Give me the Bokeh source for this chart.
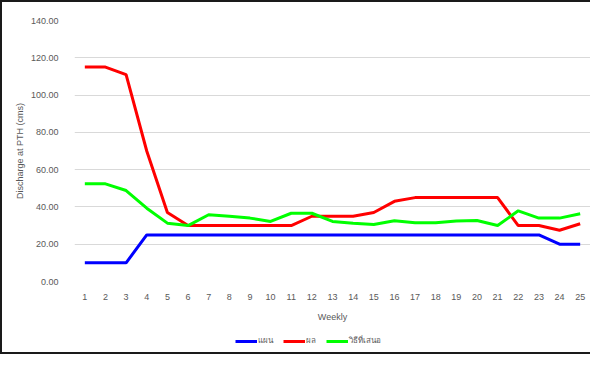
from bokeh.plotting import figure
from bokeh.layouts import column
from bokeh.models import (FactorRange, Range1d, SingleIntervalTicker, NumeralTickFormatter,
                          Legend, LegendItem)
from bokeh.embed import file_html
from bokeh.resources import INLINE

weeks = [str(i) for i in range(1, 26)]
plan = [10, 10, 10, 25, 25, 25, 25, 25, 25, 25, 25, 25, 25, 25, 25, 25, 25, 25, 25, 25, 25, 25, 25, 20, 20]
actual = [115, 115, 111, 70, 37, 30, 30, 30, 30, 30, 30, 35, 35, 35, 37, 43, 45, 45, 45, 45, 45, 30, 30, 27.5, 31]
proposed = [52.4, 52.4, 48.8, 39.3, 31.3, 30, 35.8, 35, 34, 32.2, 36.6, 36.6, 32.2, 31.3, 30.6, 32.6,
            31.5, 31.5, 32.4, 32.7, 30, 37.9, 34, 34, 36.3]
series_names = ["แผน", "ผล", "วิธีที่เสนอ"]
series_colors = ["#0000FF", "#FF0000", "#00FF00"]

FONT = "Liberation Sans"
GRAY = "#595959"

# main chart
p = figure(x_range=FactorRange(factors=weeks, range_padding=0),
           y_range=Range1d(0, 140),
           width=588, height=327,
           min_border_left=72, min_border_right=0, min_border_top=18, min_border_bottom=48,
           output_backend="svg", toolbar_location=None)
p.outline_line_color = None
p.background_fill_color = "white"
p.border_fill_color = "white"

series = [plan, actual, proposed]
for vals, color in zip(series, series_colors):
    p.line(weeks, vals, line_color=color, line_width=3)

p.xgrid.grid_line_color = None
p.ygrid.grid_line_color = "#d9d9d9"
p.ygrid.grid_line_width = 1

p.yaxis.ticker = SingleIntervalTicker(interval=20)
p.yaxis.formatter = NumeralTickFormatter(format="0.00")
p.yaxis.axis_label = "Discharge at PTH (cms)"
p.xaxis.axis_label = "Weekly"

for ax in (p.xaxis[0], p.yaxis[0]):
    ax.axis_line_color = None
    ax.major_tick_line_color = None
    ax.minor_tick_line_color = None
    ax.major_tick_out = 0
    ax.major_tick_in = 0
    ax.major_label_text_font = FONT
    ax.major_label_text_font_size = "9px"
    ax.major_label_text_color = GRAY
    ax.axis_label_text_font = FONT
    ax.axis_label_text_font_size = "9px"
    ax.axis_label_text_color = GRAY
    ax.axis_label_text_font_style = "normal"

p.xaxis.major_label_standoff = 12
p.xaxis.axis_label_standoff = 9
p.yaxis.major_label_standoff = 12
p.yaxis.axis_label_standoff = 3

# legend strip below the chart (same series, drawn outside its visible range)
lg = figure(width=588, height=23, x_range=FactorRange(factors=weeks, range_padding=0),
            y_range=Range1d(1000, 1001), x_axis_type=None, y_axis_type=None,
            min_border=0, output_backend="svg", toolbar_location=None)
lg.outline_line_color = None
lg.grid.grid_line_color = None
lg.background_fill_color = "white"
lg.border_fill_color = "white"
proxies = [lg.line(weeks, vals, line_color=c, line_width=3) for vals, c in zip(series, series_colors)]

legend = Legend(items=[LegendItem(label=n, renderers=[r]) for n, r in zip(series_names, proxies)],
                orientation="horizontal", location=(161, 5),
                glyph_width=22, glyph_height=12, label_height=12, label_width=1, label_standoff=1,
                spacing=10, padding=0, margin=0,
                label_text_font="Noto Sans", label_text_font_size="8px", label_text_color=GRAY,
                border_line_color=None, background_fill_alpha=0)
lg.add_layout(legend, "center")

layout = column(p, lg, spacing=0,
                styles={"border-left": "2px solid #1a1a1a", "border-top": "2px solid #1a1a1a",
                        "border-bottom": "2px solid #1a1a1a", "background-color": "white"})

open("out.html", "w").write(file_html(layout, INLINE))
